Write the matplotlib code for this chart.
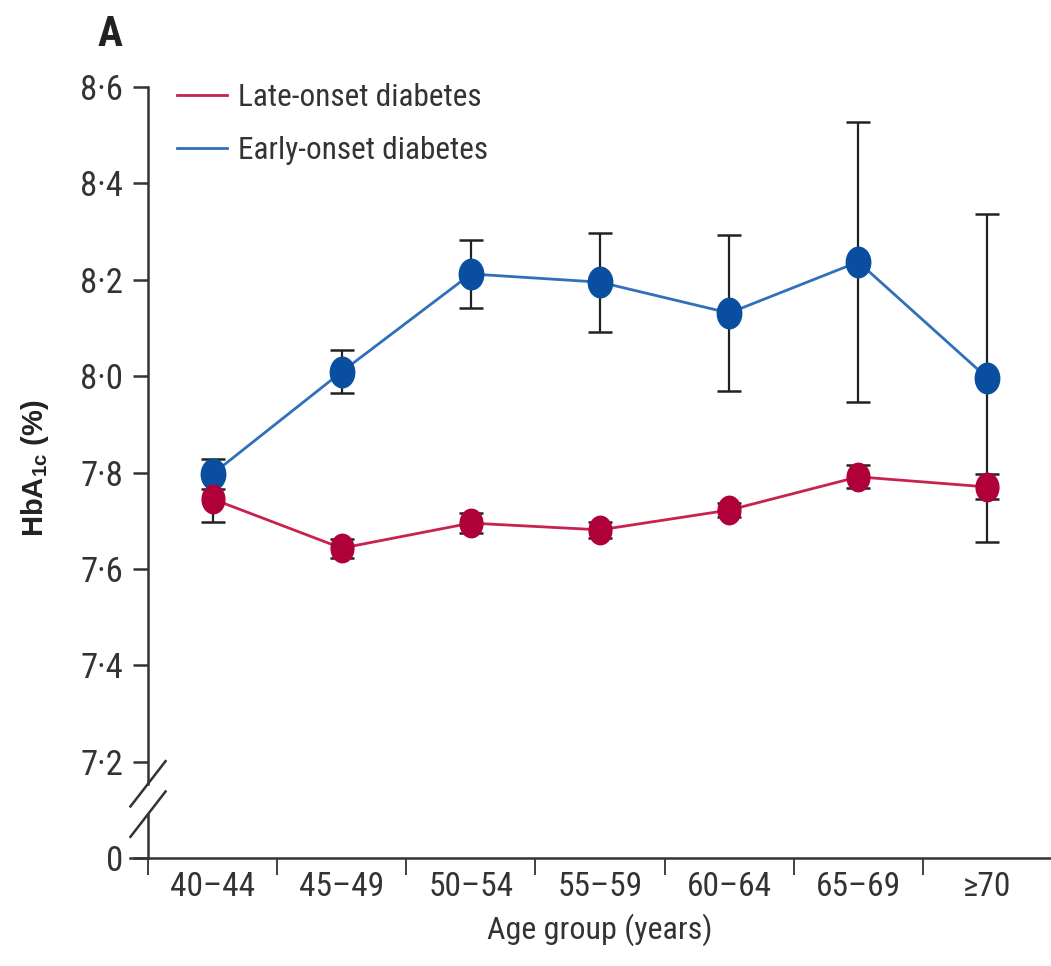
import matplotlib
matplotlib.use("Agg")
import matplotlib.pyplot as plt
from matplotlib.path import Path
from matplotlib import font_manager
import numpy as np

# ---- data ----
age_groups = ["40–44", "45–49", "50–54", "55–59", "60–64", "65–69", "≥70"]
late_onset = [7.745, 7.643, 7.695, 7.681, 7.722, 7.791, 7.770]
late_err = [0.048, 0.020, 0.020, 0.017, 0.014, 0.024, 0.026]
early_onset = [7.797, 8.009, 8.212, 8.195, 8.131, 8.237, 7.996]
early_err = [0.031, 0.045, 0.070, 0.103, 0.162, 0.290, 0.340]
ytick_values = [7.0, 7.2, 7.4, 7.6, 7.8, 8.0, 8.2, 8.4, 8.6]
ytick_labels = ["0", "7·2", "7·4", "7·6", "7·8", "8·0", "8·2", "8·4", "8·6"]

names = {f.name for f in font_manager.fontManager.ttflist}
fam = [n for n in ["Roboto Condensed", "Open Sans Condensed", "Liberation Sans Narrow",
                   "Liberation Sans", "DejaVu Sans"] if n in names]
plt.rcParams['font.family'] = fam
lab_fam = [n for n in ["Liberation Sans", "DejaVu Sans"] if n in names]
plt.rcParams['mathtext.fontset'] = 'custom'
plt.rcParams['mathtext.rm'] = lab_fam[0]
plt.rcParams['mathtext.it'] = lab_fam[0]
plt.rcParams['mathtext.bf'] = lab_fam[0] + ':bold'

RED_M = '#b0003a'
RED_L = '#c8224e'
BLUE_M = '#0a4f9f'
BLUE_L = '#3070b8'
TXT = '#333333'

fig = plt.figure(figsize=(10.51, 9.66), dpi=100)
ax = fig.add_axes([148/1051, 1 - 858/966, 904/1051, 771/966])

x = np.arange(len(age_groups))

# ellipse marker (taller than wide)
circ = Path.unit_circle()
ell = Path(circ.vertices * np.array([0.8, 1.0]), circ.codes)

ax.errorbar(x, early_onset, yerr=early_err, fmt='none', ecolor='#222222',
            elinewidth=1.6, capsize=8.5, capthick=1.8, zorder=2)
ax.errorbar(x, late_onset, yerr=late_err, fmt='none', ecolor='#222222',
            elinewidth=1.6, capsize=8.5, capthick=1.8, zorder=2)

ax.plot(x, early_onset, color=BLUE_L, lw=2.0, zorder=3, label='Early-onset diabetes')
ax.plot(x, late_onset, color=RED_L, lw=2.0, zorder=3, label='Late-onset diabetes')
ax.plot(x, early_onset, ls='none', marker=ell, ms=22, color=BLUE_M, zorder=4)
ax.plot(x, late_onset, ls='none', marker=ell, ms=20.5, color=RED_M, zorder=4)

ax.set_xlim(-0.5, len(age_groups) - 0.5)
ax.set_ylim(7.0, 8.6)

ax.set_yticks(ytick_values)
ax.set_yticklabels(ytick_labels)
ax.set_xticks(x)
ax.set_xticklabels(age_groups)
ax.set_xticks(np.arange(-0.5, len(age_groups)), minor=True)
ax.tick_params(axis='x', which='major', length=0, pad=9, labelsize=24, labelcolor=TXT)
ax.tick_params(axis='x', which='minor', length=12, width=1.3, color='#333333', direction='out')
ax.tick_params(axis='y', length=11, width=1.8, color='#333333', pad=7, labelsize=25, labelcolor=TXT)

for s in ['top', 'right', 'left']:
    ax.spines[s].set_visible(False)
ax.spines['bottom'].set_linewidth(1.8)
ax.spines['bottom'].set_color('#333333')

# left spine with axis break
trans = ax.get_yaxis_transform()
ax.plot([0, 0], [8.6, 7.154], transform=trans, color='#333333', lw=1.8, clip_on=False, zorder=5)
ax.plot([0, 0], [7.091, 7.0], transform=trans, color='#333333', lw=1.8, clip_on=False, zorder=5)
dx, dy = 0.0194, 0.047
for yc in (7.154, 7.091):
    ax.plot([-dx, dx], [yc - dy, yc + dy], transform=trans, color='#333333', lw=1.8,
            clip_on=False, zorder=5)
ax.plot([-0.02, 0], [7.0, 7.0], transform=trans, color='#333333', lw=1.8, clip_on=False)

handles, labels = ax.get_legend_handles_labels()
leg = ax.legend(handles[::-1], labels[::-1], loc='upper left', bbox_to_anchor=(0.032, 1.005),
                frameon=False, fontsize=22.5, handlelength=1.6, handletextpad=0.35,
                labelspacing=0.75, borderpad=0, borderaxespad=0)
for t in leg.get_texts():
    t.set_color(TXT)

ax.set_xlabel('Age group (years)', fontsize=23, color=TXT, labelpad=8)
fig.text(35/1051, 1 - 468/966, r'HbA$_{\mathbf{1c}}$ (%)', rotation=90, fontsize=21,
         ha='center', va='center', color='#222222', fontweight='bold', family=lab_fam)
fig.text(110/1051, 1 - 35/966, 'A', fontsize=30, fontweight='bold', ha='center',
         va='center', color='#222222')

fig.savefig('out.png', dpi=100)
